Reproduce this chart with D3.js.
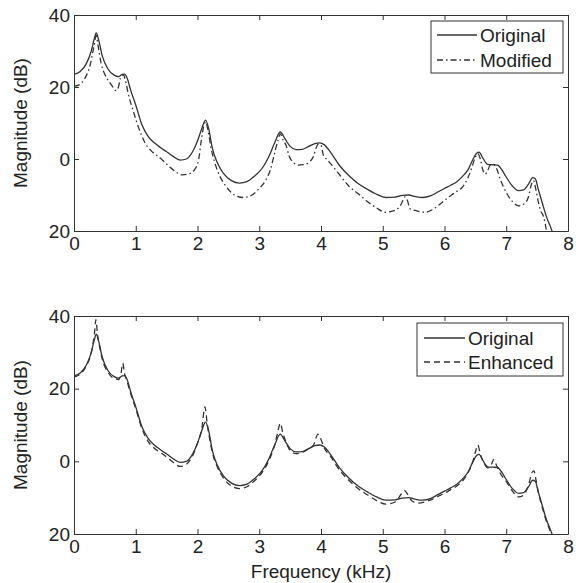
<!DOCTYPE html>
<html>
<head>
<meta charset="utf-8">
<script src="https://cdn.jsdelivr.net/npm/d3@7"></script>
<style>
  body { margin: 0; background: #fff; }
  svg text { font-family: "Liberation Sans", Arial, sans-serif; fill: #222; }
</style>
</head>
<body>
<svg width="576" height="583"></svg>
<script>
// spectra (kHz, dB)
const freqOrig = [0.00, 0.10, 0.20, 0.28, 0.33, 0.36, 0.40, 0.46, 0.55, 0.65, 0.72, 0.78, 0.82, 0.86, 0.92, 1.00, 1.10, 1.20, 1.30, 1.40, 1.50, 1.60, 1.72, 1.82, 1.92, 2.00, 2.07, 2.13, 2.18, 2.24, 2.32, 2.42, 2.55, 2.68, 2.80, 2.92, 3.05, 3.15, 3.25, 3.34, 3.42, 3.50, 3.60, 3.70, 3.80, 3.90, 3.98, 4.05, 4.15, 4.30, 4.45, 4.60, 4.75, 4.90, 5.05, 5.20, 5.32, 5.42, 5.52, 5.65, 5.78, 5.90, 6.00, 6.10, 6.20, 6.30, 6.38, 6.45, 6.52, 6.56, 6.62, 6.70, 6.78, 6.86, 6.92, 7.00, 7.10, 7.20, 7.28, 7.36, 7.43, 7.47, 7.52, 7.58, 7.65, 7.72, 7.80];
const magOrig = [23.5, 24.3, 26.5, 30, 33.5, 35, 33, 28.5, 25, 23.3, 22.9, 23.5, 23.6, 22.5, 19, 15, 9.5, 6.3, 4.5, 3.2, 2, 0.8, -0.3, 0, 2, 5, 8.5, 10.8, 8.5, 3, -1, -4, -6, -6.7, -6.3, -4.8, -2.5, 0.5, 4.5, 7.5, 5.5, 3.5, 2.6, 2.7, 3.5, 4.3, 4.5, 4, 2, -1.8, -4.6, -6.8, -8.4, -9.8, -10.7, -10.6, -10.1, -10, -10.4, -10.7, -10.2, -9.1, -8.2, -7.3, -6.3, -4.7, -3, -0.5, 1.6, 1.9, 0.3, -1.5, -1.6, -1.7, -2.8, -5, -7.5, -8.8, -8.6, -7, -5.2, -5.5, -8.5, -12, -16, -19, -23];

const freqMod = [0.00, 0.08, 0.18, 0.26, 0.32, 0.36, 0.39, 0.44, 0.50, 0.58, 0.64, 0.68, 0.72, 0.76, 0.80, 0.83, 0.88, 0.96, 1.05, 1.15, 1.28, 1.40, 1.55, 1.65, 1.75, 1.85, 1.95, 2.02, 2.06, 2.10, 2.13, 2.17, 2.22, 2.28, 2.36, 2.48, 2.60, 2.74, 2.88, 3.00, 3.10, 3.18, 3.24, 3.30, 3.34, 3.38, 3.44, 3.48, 3.54, 3.64, 3.74, 3.82, 3.88, 3.92, 3.96, 4.00, 4.04, 4.10, 4.20, 4.32, 4.45, 4.60, 4.75, 4.90, 5.04, 5.15, 5.25, 5.30, 5.36, 5.40, 5.44, 5.55, 5.68, 5.80, 5.93, 6.05, 6.18, 6.30, 6.38, 6.44, 6.50, 6.54, 6.58, 6.62, 6.66, 6.70, 6.74, 6.80, 6.84, 6.90, 7.00, 7.10, 7.20, 7.30, 7.36, 7.40, 7.44, 7.48, 7.52, 7.56, 7.60, 7.68];
const magMod = [20.2, 20.6, 22.5, 26, 31, 34.3, 31.5, 26.5, 23.5, 21.2, 19.8, 19, 20, 23, 23.4, 22, 18, 13.3, 8.5, 4.5, 1.8, 0.2, -2.2, -3.6, -4.4, -4.2, -3, 0, 5, 9, 10.3, 8, 3, -1, -4.7, -8, -10, -10.7, -10, -8.2, -6, -3, 1, 5, 7, 5.5, 3.5, 1, -0.8, -1.7, -1.5, -0.7, 0.8, 3, 4.2, 3.8, 1, -0.2, -2.2, -4.8, -7.5, -9.6, -11.8, -13.6, -14.8, -14.5, -13.7, -12.5, -10.5, -11.5, -13.8, -14.4, -14.8, -14.1, -12.5, -10.8, -9.2, -7.6, -5.2, -2.5, 0.5, 1.5, 0, -3, -4.2, -3.2, -1.7, -1.6, -2.5, -5.5, -9.3, -11.8, -13, -12.3, -10.5, -7.5, -6, -8.5, -12, -14.5, -15.8, -23];

const freqEnh = [0.00, 0.10, 0.20, 0.28, 0.33, 0.355, 0.38, 0.40, 0.46, 0.55, 0.65, 0.72, 0.76, 0.79, 0.82, 0.86, 0.92, 1.00, 1.10, 1.20, 1.30, 1.40, 1.50, 1.60, 1.72, 1.82, 1.92, 2.00, 2.07, 2.12, 2.16, 2.24, 2.32, 2.42, 2.55, 2.68, 2.80, 2.92, 3.05, 3.15, 3.25, 3.30, 3.34, 3.38, 3.44, 3.50, 3.60, 3.70, 3.80, 3.88, 3.95, 4.00, 4.05, 4.15, 4.30, 4.45, 4.60, 4.75, 4.90, 5.05, 5.20, 5.30, 5.35, 5.40, 5.48, 5.58, 5.68, 5.78, 5.90, 6.00, 6.10, 6.20, 6.30, 6.38, 6.45, 6.50, 6.54, 6.58, 6.64, 6.70, 6.76, 6.80, 6.84, 6.90, 7.00, 7.10, 7.20, 7.28, 7.36, 7.42, 7.45, 7.48, 7.52, 7.58, 7.65, 7.72, 7.80];
const magEnh = [23.2, 24, 26.3, 30, 35, 39, 35, 33, 28, 24.5, 22.8, 22.5, 24, 27, 24, 22, 18.5, 14.5, 9, 5.5, 3.6, 2.4, 1.2, -0.2, -1.4, -0.8, 1.5, 5, 9, 15, 10, 2.5, -1.5, -4.6, -6.8, -7.5, -7, -5.4, -3, 0, 4.5, 8, 10.5, 8, 5, 3, 2.1, 2.5, 3.5, 4.5, 7.5, 6, 3.8, 1.5, -2.4, -5.2, -7.5, -9.2, -10.8, -11.8, -11.2, -9, -8, -9, -11, -11.5, -11.2, -10.6, -9.6, -8.8, -7.8, -6.8, -5.2, -3.2, -0.5, 2.5, 4.5, 2, -0.5, -1.8, -0.8, 0.5, -1, -3.2, -5.5, -8.2, -9.8, -9.3, -6.5, -3, -2.6, -5, -8.5, -12.5, -16.5, -19.5, -23];

const xTicks = [0, 1, 2, 3, 4, 5, 6, 7, 8];
const yTicks = [40, 20, 0, -20];
const yTickLabels = ["40", "20", "0", "20"];

const svg = d3.select("svg");
const left = 74, right = 568;
const ink = "#333";

const x = d3.scaleLinear().domain([0, 8]).range([left, right]);

function panel(top, bottom, series, legendBox, id) {
  const y = d3.scaleLinear().domain([-20, 40]).range([bottom, top]);
  const g = svg.append("g");

  g.append("clipPath").attr("id", id)
    .append("rect").attr("x", left).attr("y", top)
    .attr("width", right - left).attr("height", bottom - top);

  const line = d3.line()
    .x(d => x(d[0]))
    .y(d => y(d[1]))
    .curve(d3.curveMonotoneX);

  series.forEach(s => {
    g.append("path")
      .datum(s.f.map((f, i) => [f, s.m[i]]))
      .attr("clip-path", "url(#" + id + ")")
      .attr("fill", "none")
      .attr("stroke", ink)
      .attr("stroke-width", 1.3)
      .attr("stroke-dasharray", s.dash)
      .attr("d", line);
  });

  // axes, matlab style: ticks inside on all four sides
  g.append("g").attr("transform", "translate(0," + bottom + ")")
    .call(d3.axisBottom(x).tickValues(xTicks).tickSize(-5).tickSizeOuter(0).tickPadding(6).tickFormat(d3.format("d")));
  g.append("g").attr("transform", "translate(0," + top + ")")
    .call(d3.axisTop(x).tickValues(xTicks).tickSize(-5).tickSizeOuter(0).tickFormat(""));
  g.append("g").attr("transform", "translate(" + left + ",0)")
    .call(d3.axisLeft(y).tickValues(yTicks).tickSize(-5).tickSizeOuter(0).tickPadding(4)
      .tickFormat((d, i) => yTickLabels[i]));
  g.append("g").attr("transform", "translate(" + right + ",0)")
    .call(d3.axisRight(y).tickValues(yTicks).tickSize(-5).tickSizeOuter(0).tickFormat(""));

  g.selectAll(".domain, .tick line").attr("stroke", ink).attr("stroke-width", 1);
  g.selectAll(".tick text").attr("font-size", 19).attr("fill", "#222")
    .attr("font-family", "Liberation Sans, Arial, sans-serif");

  g.append("text")
    .attr("transform", "translate(27," + (top + bottom) / 2 + ") rotate(-90)")
    .attr("text-anchor", "middle")
    .attr("font-size", 19)
    .text("Magnitude (dB)");

  // legend
  const lg = g.append("g");
  lg.append("rect")
    .attr("x", legendBox.x0).attr("y", legendBox.y0)
    .attr("width", legendBox.x1 - legendBox.x0).attr("height", legendBox.y1 - legendBox.y0)
    .attr("fill", "#fff").attr("stroke", ink).attr("stroke-width", 1);
  series.forEach((s, i) => {
    const cy = legendBox.rows[i];
    lg.append("line")
      .attr("x1", legendBox.l0).attr("x2", legendBox.l1)
      .attr("y1", cy).attr("y2", cy)
      .attr("stroke", ink).attr("stroke-width", 1.3)
      .attr("stroke-dasharray", s.dash);
    lg.append("text")
      .attr("x", legendBox.l1 + 3).attr("y", cy)
      .attr("dy", "0.36em")
      .attr("font-size", 19)
      .text(s.name);
  });
}

panel(15, 231, [
  { name: "Original", f: freqOrig, m: magOrig, dash: null },
  { name: "Modified", f: freqMod, m: magMod, dash: "6,3,1.5,3" }
], { x0: 431, x1: 563, y0: 21, y1: 73, l0: 437, l1: 477, rows: [35, 60] }, "clipTop");

panel(316, 534, [
  { name: "Original", f: freqOrig, m: magOrig, dash: null },
  { name: "Enhanced", f: freqEnh, m: magEnh, dash: "6,4" }
], { x0: 417, x1: 563, y0: 323, y1: 376, l0: 424, l1: 465, rows: [338, 362] }, "clipBot");

svg.append("text")
  .attr("x", (left + right) / 2)
  .attr("y", 578)
  .attr("text-anchor", "middle")
  .attr("font-size", 19)
  .text("Frequency (kHz)");
</script>
</body>
</html>
